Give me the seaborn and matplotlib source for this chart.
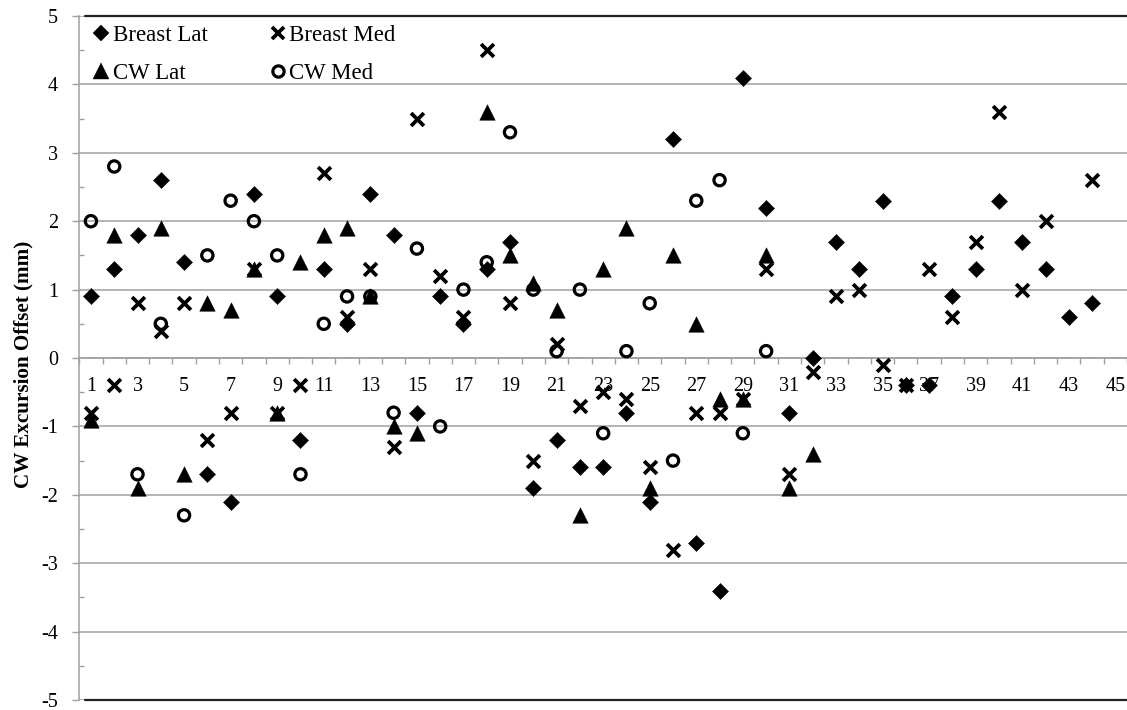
import numpy as np
import pandas as pd
import matplotlib
matplotlib.use("Agg")
import matplotlib.pyplot as plt
from matplotlib.lines import Line2D
import seaborn as sns

nan = np.nan
categories = list(range(1, 46))
breast_lat = [0.9, 1.3, 1.8, 2.6, 1.4, -1.7, -2.1, 2.4, 0.9, -1.2,
              1.3, 0.5, 2.4, 1.8, -0.8, 0.9, 0.5, 1.3, 1.7, -1.9,
              -1.2, -1.6, -1.6, -0.8, -2.1, 3.2, -2.7, -3.4, 4.1, 2.2,
              -0.8, 0.0, 1.7, 1.3, 2.3, -0.4, -0.4, 0.9, 1.3, 2.3,
              1.7, 1.3, 0.6, 0.8, nan]
breast_med = [-0.8, -0.4, 0.8, 0.4, 0.8, -1.2, -0.8, 1.3, -0.8, -0.4,
              2.7, 0.6, 1.3, -1.3, 3.5, 1.2, 0.6, 4.5, 0.8, -1.5,
              0.2, -0.7, -0.5, -0.6, -1.6, -2.8, -0.8, -0.8, -0.6, 1.3,
              -1.7, -0.2, 0.9, 1.0, -0.1, -0.4, 1.3, 0.6, 1.7, 3.6,
              1.0, 2.0, nan, 2.6, nan]
cw_lat = [-0.9, 1.8, -1.9, 1.9, -1.7, 0.8, 0.7, 1.3, -0.8, 1.4,
          1.8, 1.9, 0.9, -1.0, -1.1, nan, nan, 3.6, 1.5, 1.1,
          0.7, -2.3, 1.3, 1.9, -1.9, 1.5, 0.5, -0.6, -0.6, 1.5,
          -1.9, -1.4] + [nan] * 13
cw_med = [2.0, 2.8, -1.7, 0.5, -2.3, 1.5, 2.3, 2.0, 1.5, -1.7,
          0.5, 0.9, 0.9, -0.8, 1.6, -1.0, 1.0, 1.4, 3.3, 1.0,
          0.1, 1.0, -1.1, 0.1, 0.8, -1.5, 2.3, 2.6, -1.1, 0.1] + [nan] * 15
series_names = ["Breast Lat", "Breast Med", "CW Lat", "CW Med"]
x_tick_labels = [str(i) for i in range(1, 46, 2)]

sns.set_theme(style="white")
plt.rcParams["font.family"] = ["Liberation Serif", "DejaVu Serif"]

W, H = 1127, 710
fig = plt.figure(figsize=(W / 100, H / 100), dpi=100)
left_px, right_px, top_px, bot_px = 79.3, 1127, 16, 700
ax = fig.add_axes([left_px / W, (H - bot_px) / H, (right_px - left_px) / W, (bot_px - top_px) / H])

black = "black"
grey = "#a0a0a0"

df = pd.DataFrame({"cat": categories, "Breast Lat": breast_lat, "Breast Med": breast_med,
                   "CW Lat": cw_lat, "CW Med": cw_med})

sns.scatterplot(data=df, x="cat", y="Breast Lat", marker="D", s=68, color=black,
                edgecolor=black, linewidth=0.3, ax=ax, zorder=3)
sns.scatterplot(data=df, x="cat", y="Breast Med", marker="x", s=85, color=black,
                linewidth=2.7, ax=ax, zorder=3)
sns.scatterplot(data=df, x="cat", y="CW Lat", marker="^", s=125, color=black,
                edgecolor=black, linewidth=0.3, ax=ax, zorder=3)
sns.scatterplot(data=df, x="cat", y="CW Med", marker="o", s=66, facecolors="none",
                edgecolor=black, linewidth=2.3, ax=ax, zorder=3)

ax.set_xlim(0.5, 0.5 + (right_px - left_px) / 23.37)
ax.set_ylim(-5, 5)

# y axis
ax.set_yticks(np.arange(-5, 6, 1))
ax.set_yticklabels([str(v) for v in range(-5, 6)])
ax.set_yticks(np.arange(-4.5, 5, 1), minor=True)
ax.tick_params(axis="y", which="major", direction="out", length=5.4, width=1.0,
               color=grey, pad=10, labelsize=14.5, labelcolor=black, left=True)
ax.tick_params(axis="y", which="minor", direction="in", length=3.6, width=1.0,
               color=grey, left=True)
ax.yaxis.grid(True, which="major", color=grey, linewidth=1.1)
ax.xaxis.grid(False)

# x axis at zero
ax.spines["bottom"].set_position(("data", 0))
ax.spines["bottom"].set_color(grey)
ax.spines["bottom"].set_linewidth(1.1)
ax.spines["left"].set_color(grey)
ax.spines["left"].set_linewidth(1.1)
ax.spines["top"].set_visible(False)
ax.spines["right"].set_visible(False)
ax.set_xticks(range(1, 46, 2))
ax.set_xticklabels(x_tick_labels)
ax.set_xticks(np.arange(0.5, 46, 1), minor=True)
ax.tick_params(axis="x", which="major", length=0, pad=14, labelsize=14.5, labelcolor=black, bottom=True)
ax.tick_params(axis="x", which="minor", direction="out", length=4.5, width=1.0, color=grey, bottom=True)

# dark frame lines at top and bottom
xmin_frac = (85 - left_px) / (right_px - left_px)
ax.axhline(5, xmin=xmin_frac, color="#222222", linewidth=1.6, clip_on=False, zorder=2)
ax.axhline(-5, xmin=xmin_frac, color="#222222", linewidth=1.6, clip_on=False, zorder=2)

ax.set_xlabel("")
ax.set_ylabel("CW Excursion Offset (mm)", fontsize=15.2, fontweight="bold", color=black)
ax.yaxis.set_label_coords((33 - left_px) / (right_px - left_px), (bot_px - 364) / (bot_px - top_px))

handles = [
    Line2D([], [], marker="D", color=black, linestyle="none", markersize=8.2, markeredgewidth=0.3),
    Line2D([], [], marker="^", color=black, linestyle="none", markersize=12.0, markeredgewidth=0.3),
    Line2D([], [], marker="x", color=black, linestyle="none", markersize=9.2, markeredgewidth=2.7),
    Line2D([], [], marker="o", color=black, markerfacecolor="none", linestyle="none",
           markersize=8.1, markeredgewidth=2.3),
]
labels = ["Breast Lat", "CW Lat", "Breast Med", "CW Med"]
leg = ax.legend(handles, labels, ncol=2, loc="upper left",
                bbox_to_anchor=(77 / W, (H - 9) / H), bbox_transform=fig.transFigure,
                frameon=False, fontsize=16.5, handlelength=0.7, handletextpad=0.15,
                columnspacing=2.72, labelspacing=0.72, borderpad=0.2)
for t in leg.get_texts():
    t.set_color(black)

fig.savefig("out.png", dpi=100)
